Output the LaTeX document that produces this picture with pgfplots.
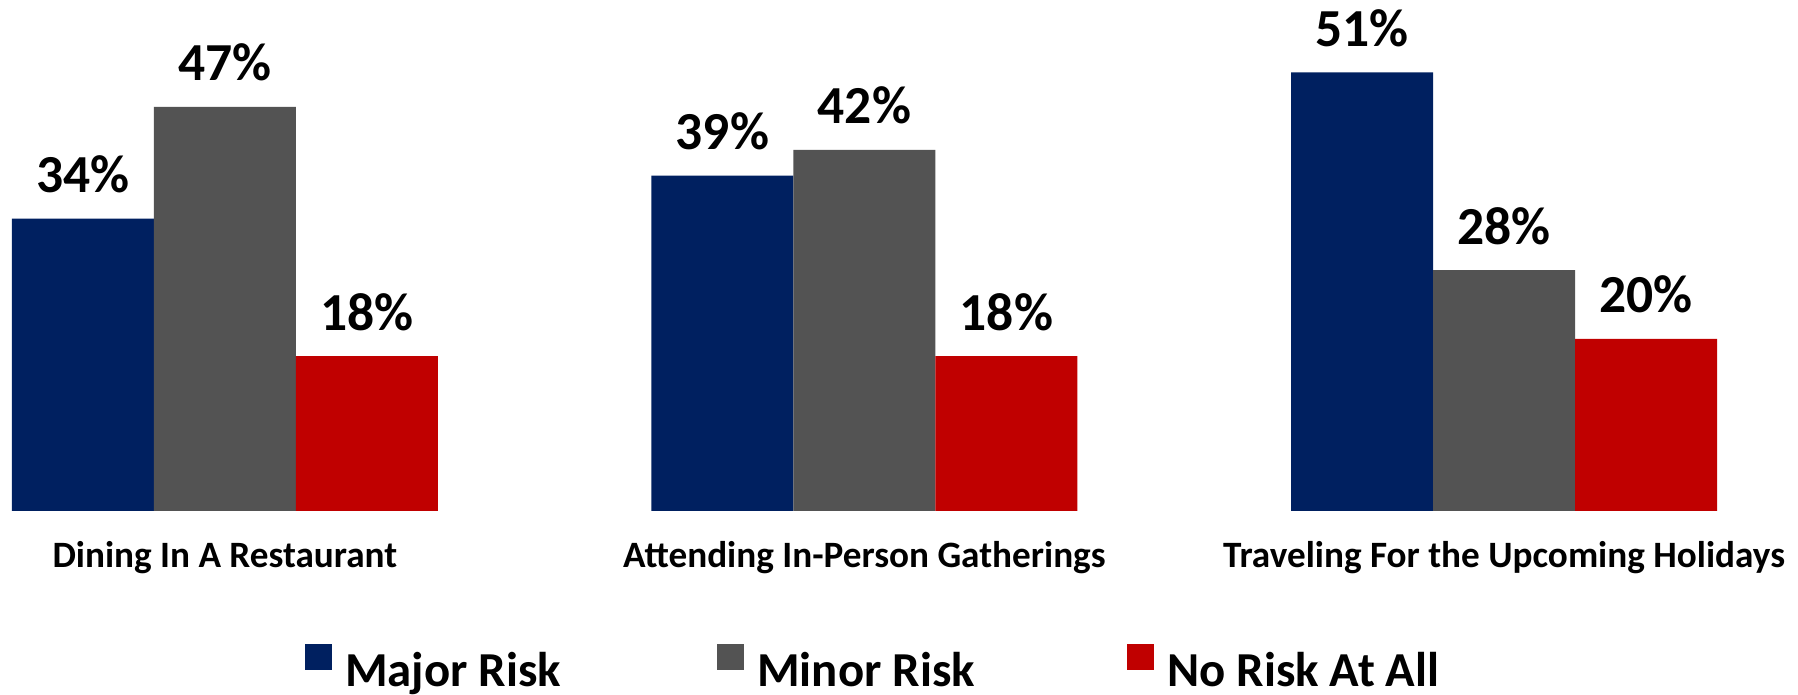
\documentclass[border=0pt]{standalone}
\usepackage{pgfplots}
\pgfplotsset{compat=1.18}
\usepackage{fontspec}
\setmainfont{Carlito}
\definecolor{cMajor}{RGB}{0,32,96}
\definecolor{cMinor}{RGB}{83,83,83}
\definecolor{cNone}{RGB}{192,0,0}
\pgfplotsset{sqlegend/.style={legend image code/.code={\fill[##1] (0pt,0pt) rectangle (27pt,26pt);}}}
\begin{document}
\begin{tikzpicture}
\useasboundingbox (0pt,0pt) rectangle (1798pt,695pt);
\begin{axis}[
 at={(0pt,184pt)}, anchor=south west,
 scale only axis, width=1798pt, height=511pt,
 xmin=-0.3515, xmax=2.4597, ymin=0, ymax=59.42,
 ybar=0pt, bar width=142pt,
 axis lines*=left, axis line style={draw=none},
 xtick={0,1,2},
 xticklabels={Dining In A Restaurant, Attending In-Person Gatherings, Traveling For the Upcoming Holidays},
 xtick style={draw=none}, ytick=\empty,
 xticklabel style={font=\fontsize{37.2}{41}\selectfont\bfseries, anchor=base, inner sep=0pt, yshift=-52pt},
 nodes near coords={\pgfmathprintnumber{\pgfplotspointmeta}\%},
 nodes near coords style={font=\fontsize{53.5}{60}\selectfont\bfseries, anchor=base, inner sep=0pt, yshift=26pt, text=black},
 /pgf/number format/assume math mode=true,
 clip=false,
 legend columns=3,
 legend style={draw=none, fill=none, inner sep=0pt,
   at={(axis description cs:0.1696,-0.3445)}, anchor=south west,
   font=\fontsize{48.8}{52}\selectfont\bfseries,
   nodes={inner sep=0pt, text depth=0pt},
   /tikz/every odd column/.append style={column sep=13pt},
   /tikz/column 2/.append style={column sep=156pt},
   /tikz/column 4/.append style={column sep=152pt}},
]
\addplot[fill=cMajor, draw=none, sqlegend] coordinates {(0,34) (1,39) (2,51)};
\addplot[fill=cMinor, draw=none, sqlegend] coordinates {(0,47) (1,42) (2,28)};
\addplot[fill=cNone, draw=none, sqlegend] coordinates {(0,18) (1,18) (2,20)};
\legend{Major Risk, Minor Risk, No Risk At All}
\end{axis}
\end{tikzpicture}
\end{document}
